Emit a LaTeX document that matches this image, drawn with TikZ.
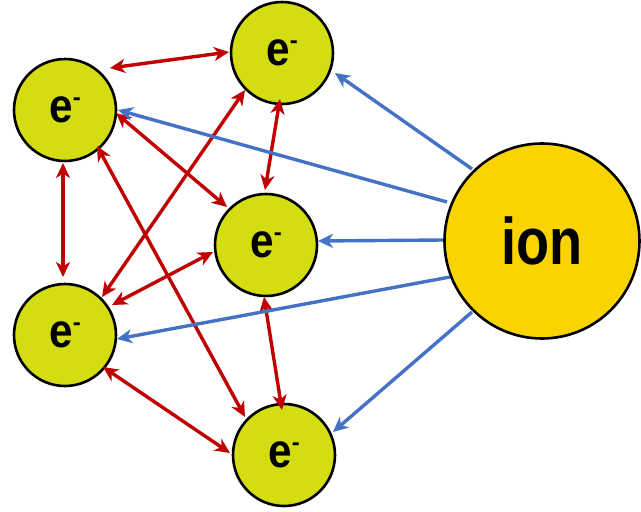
\documentclass[tikz,border=0pt]{standalone}
\usepackage{fontspec}
\setmainfont{Liberation Sans}
\usetikzlibrary{arrows.meta,calc}
\definecolor{elec}{RGB}{212,220,18}
\definecolor{ionc}{RGB}{250,212,0}
\definecolor{redc}{RGB}{192,0,0}
\definecolor{bluec}{RGB}{68,114,196}
\newcommand\elabel{\scalebox{0.88}[1]{e}\raisebox{17pt}{\fontsize{24}{24}\selectfont -}}
\tikzset{
  electron/.style={circle, draw=black, line width=2.6pt, fill=elec, minimum size=102pt, inner sep=0pt,
    font=\fontsize{48}{48}\selectfont\bfseries},
  ionnode/.style={circle, draw=black, line width=2.6pt, fill=ionc, minimum size=195pt, inner sep=0pt,
    font=\fontsize{66}{66}\selectfont\bfseries},
  tipshape/.tip={Stealth[length=15pt,width=14pt,inset=4.5pt]},
  rarrow/.style={draw=redc, line width=3.4pt, {tipshape}-{tipshape}},
  barrow/.style={draw=bluec, line width=3.4pt, -{tipshape}},
}
\begin{document}
\begin{tikzpicture}[x=1pt,y=-1pt]
\useasboundingbox (0,0) rectangle (641,512);
\node[electron] (e1) at (65,110) {\elabel};
\node[electron] (e2) at (282,53) {\elabel};
\node[electron] (e3) at (266,245) {\elabel};
\node[electron] (e4) at (65,335) {\elabel};
\node[electron] (e5) at (284,455) {\elabel};
\node[ionnode] (ion) at (542,241) {\scalebox{0.82}[1]{ion}};

% red double arrows
\draw[rarrow] ($(e1)+(45,-42)$) -- ($(e2)+(-53,-1)$);
\draw[rarrow] ($(e1)+(-2,53)$) -- ($(e4)+(-2,-58)$);
\draw[rarrow] ($(e1)+(51,3)$) -- ($(e3)+(-39,-38)$);
\draw[rarrow] ($(e1)+(32,36)$) -- ($(e5)+(-39,-38)$);
\draw[rarrow] ($(e2)+(-37,37)$) -- ($(e4)+(37,-38)$);
\draw[rarrow] ($(e3)+(-53,7)$) -- ($(e4)+(47,-30)$);
\draw[rarrow] ($(e2)+(-2,46)$) -- ($(e3)+(-1,-55)$);
\draw[rarrow] ($(e3)+(-2,52)$) -- ($(e5)+(-2,-45)$);
\draw[rarrow] ($(e4)+(38,32)$) -- ($(e5)+(-54,-2)$);

% blue arrows from ion
\draw[barrow] ($(ion)+(-70,-72)$) -- ($(e2)+(53,20)$);
\draw[barrow] ($(ion)+(-95,-39)$) -- ($(e1)+(53,0)$);
\draw[barrow] ($(ion)+(-99,-1)$) -- ($(e3)+(52,-4)$);
\draw[barrow] ($(ion)+(-92,36)$) -- ($(e4)+(52,4)$);
\draw[barrow] ($(ion)+(-70,71)$) -- ($(e5)+(49,-23)$);
\end{tikzpicture}
\end{document}
